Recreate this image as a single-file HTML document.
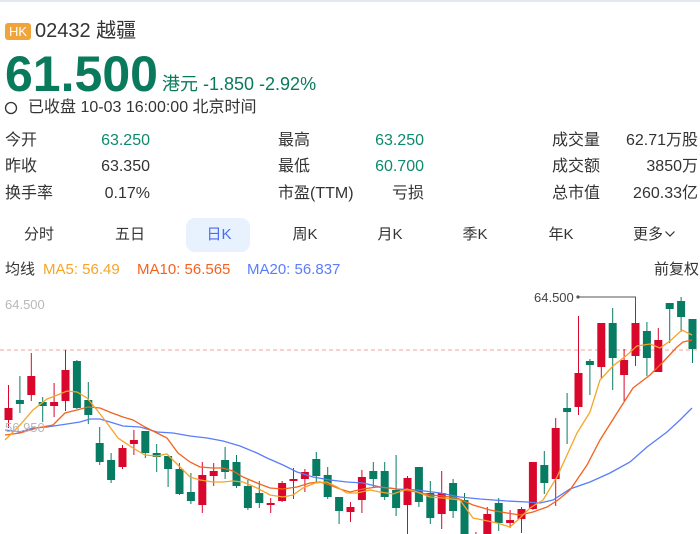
<!DOCTYPE html>
<html><head><meta charset="utf-8">
<style>
*{margin:0;padding:0;box-sizing:border-box}
html,body{width:700px;height:534px;overflow:hidden;background:#fff}
body{position:relative;font-family:"Liberation Sans","Noto Sans CJK SC",sans-serif;color:#333}
.a{position:absolute;white-space:nowrap}
.s{font-size:16px;line-height:16px}
.g{color:#0e8a6c}
.r{text-align:right}
.tab{position:absolute;top:227px;font-size:15px;line-height:15px;width:60px;text-align:center;color:#333}
.ma{position:absolute;top:262px;font-size:15px;line-height:15px}
</style></head><body>
<div class="a" style="left:0;top:0;width:700px;height:2px;background:#e4e8ef"></div>
<div class="a" style="left:5px;top:23px;width:26px;height:17px;background:#f0a43a;border-radius:3px;color:#fff;font-size:13px;line-height:17px;text-align:center">HK</div>
<div class="a" style="left:35px;top:21px;font-size:20px;line-height:20px;color:#333">02432 越疆</div>
<div class="a" style="left:5px;top:49px;font-size:50px;line-height:50px;font-weight:bold;color:#0a7a5c">61.500</div>
<div class="a" style="left:162px;top:75px;font-size:18px;line-height:18px;color:#0a7a5c">港元 -1.850 -2.92%</div>
<svg class="a" style="left:4px;top:101px" width="14" height="14"><circle cx="7" cy="7" r="5.5" fill="none" stroke="#333" stroke-width="1.3"/></svg>
<div class="a" style="left:28px;top:100px;font-size:16px;line-height:16px;color:#333">已收盘 10-03 16:00:00 北京时间</div>

<div class="a s" style="left:5px;top:133px">今开</div>
<div class="a s g r" style="left:70px;top:133px;width:80px">63.250</div>
<div class="a s" style="left:5px;top:159px">昨收</div>
<div class="a s r" style="left:70px;top:159px;width:80px">63.350</div>
<div class="a s" style="left:5px;top:186px">换手率</div>
<div class="a s r" style="left:70px;top:186px;width:80px">0.17%</div>

<div class="a s" style="left:278px;top:133px">最高</div>
<div class="a s g r" style="left:344px;top:133px;width:80px">63.250</div>
<div class="a s" style="left:278px;top:159px">最低</div>
<div class="a s g r" style="left:344px;top:159px;width:80px">60.700</div>
<div class="a s" style="left:278px;top:186px">市盈(TTM)</div>
<div class="a s r" style="left:344px;top:186px;width:80px">亏损</div>

<div class="a s" style="left:552px;top:133px">成交量</div>
<div class="a s r" style="left:598px;top:133px;width:100px">62.71万股</div>
<div class="a s" style="left:552px;top:159px">成交额</div>
<div class="a s r" style="left:598px;top:159px;width:100px">3850万</div>
<div class="a s" style="left:552px;top:186px">总市值</div>
<div class="a s r" style="left:598px;top:186px;width:100px">260.33亿</div>

<div class="a" style="left:186px;top:218px;width:64px;height:34px;background:#e8f1fe;border-radius:9px"></div>
<div class="tab" style="left:9px">分时</div>
<div class="tab" style="left:100px">五日</div>
<div class="tab" style="left:189px;color:#4a6cf0">日K</div>
<div class="tab" style="left:275px">周K</div>
<div class="tab" style="left:360px">月K</div>
<div class="tab" style="left:445px">季K</div>
<div class="tab" style="left:531px">年K</div>
<div class="a" style="left:633px;top:227px;font-size:15px;line-height:15px">更多</div>
<svg class="a" style="left:664px;top:229px" width="12" height="10"><polyline points="1.5,2.5 6,7 10.5,2.5" fill="none" stroke="#333" stroke-width="1.2"/></svg>

<div class="ma" style="left:5px;color:#333">均线</div>
<div class="ma" style="left:43px;color:#f7a428">MA5: 56.49</div>
<div class="ma" style="left:137px;color:#f5621e">MA10: 56.565</div>
<div class="ma" style="left:247px;color:#5a7dfa">MA20: 56.837</div>
<div class="ma" style="left:654px;color:#333">前复权</div>

<svg class="a" style="left:0;top:0" width="700" height="534" viewBox="0 0 700 534">
<text x="5" y="309" font-family="Liberation Sans" font-size="13" fill="#b8b8b8">64.500</text>
<line x1="0" y1="350" x2="700" y2="350" stroke="#f2a0a0" stroke-width="1" stroke-dasharray="4,3"/>
<g>
<g stroke-width="1">
<line x1="8.5" y1="385" x2="8.5" y2="428" stroke="#d9072b"/><rect x="4.5" y="408" width="8" height="12" fill="#d9072b"/>
<line x1="19.9" y1="376" x2="19.9" y2="413" stroke="#087c63"/><rect x="15.9" y="400" width="8" height="4" fill="#087c63"/>
<line x1="31.3" y1="353" x2="31.3" y2="401" stroke="#d9072b"/><rect x="27.3" y="376" width="8" height="19" fill="#d9072b"/>
<line x1="42.7" y1="397" x2="42.7" y2="422" stroke="#087c63"/><rect x="38.7" y="402" width="8" height="4" fill="#087c63"/>
<line x1="54.1" y1="383" x2="54.1" y2="417" stroke="#d9072b"/><rect x="50.1" y="402" width="8" height="4" fill="#d9072b"/>
<line x1="65.5" y1="350" x2="65.5" y2="411" stroke="#d9072b"/><rect x="61.5" y="370" width="8" height="31" fill="#d9072b"/>
<line x1="76.9" y1="360" x2="76.9" y2="409" stroke="#087c63"/><rect x="72.9" y="361" width="8" height="47" fill="#087c63"/>
<line x1="88.3" y1="382" x2="88.3" y2="424" stroke="#087c63"/><rect x="84.3" y="400" width="8" height="15" fill="#087c63"/>
<line x1="99.7" y1="427" x2="99.7" y2="465" stroke="#087c63"/><rect x="95.7" y="443" width="8" height="19" fill="#087c63"/>
<line x1="111.1" y1="453" x2="111.1" y2="483" stroke="#087c63"/><rect x="107.1" y="460" width="8" height="20" fill="#087c63"/>
<line x1="122.5" y1="445" x2="122.5" y2="469" stroke="#d9072b"/><rect x="118.5" y="448" width="8" height="19" fill="#d9072b"/>
<line x1="133.9" y1="430" x2="133.9" y2="455" stroke="#d9072b"/><rect x="129.9" y="440" width="8" height="4" fill="#d9072b"/>
<line x1="145.3" y1="431" x2="145.3" y2="458" stroke="#087c63"/><rect x="141.3" y="431" width="8" height="22" fill="#087c63"/>
<line x1="156.7" y1="444" x2="156.7" y2="472" stroke="#087c63"/><rect x="152.7" y="453" width="8" height="4" fill="#087c63"/>
<line x1="168.1" y1="456" x2="168.1" y2="487" stroke="#087c63"/><rect x="164.1" y="456" width="8" height="13" fill="#087c63"/>
<line x1="179.5" y1="463" x2="179.5" y2="495" stroke="#087c63"/><rect x="175.5" y="469" width="8" height="25" fill="#087c63"/>
<line x1="190.9" y1="473" x2="190.9" y2="504" stroke="#087c63"/><rect x="186.9" y="492" width="8" height="9" fill="#087c63"/>
<line x1="202.3" y1="462" x2="202.3" y2="513" stroke="#d9072b"/><rect x="198.3" y="475" width="8" height="30" fill="#d9072b"/>
<line x1="213.7" y1="463" x2="213.7" y2="486" stroke="#d9072b"/><rect x="209.7" y="471" width="8" height="5" fill="#d9072b"/>
<line x1="225.1" y1="447" x2="225.1" y2="479" stroke="#087c63"/><rect x="221.1" y="460" width="8" height="12" fill="#087c63"/>
<line x1="236.5" y1="455" x2="236.5" y2="488" stroke="#087c63"/><rect x="232.5" y="462" width="8" height="24" fill="#087c63"/>
<line x1="247.9" y1="480" x2="247.9" y2="510" stroke="#087c63"/><rect x="243.9" y="486" width="8" height="22" fill="#087c63"/>
<line x1="259.3" y1="481" x2="259.3" y2="508" stroke="#087c63"/><rect x="255.3" y="493" width="8" height="10" fill="#087c63"/>
<line x1="270.7" y1="498" x2="270.7" y2="513" stroke="#d9072b"/><rect x="266.7" y="503" width="8" height="2" fill="#d9072b"/>
<line x1="282.1" y1="481" x2="282.1" y2="502" stroke="#d9072b"/><rect x="278.1" y="483" width="8" height="18" fill="#d9072b"/>
<line x1="293.5" y1="468" x2="293.5" y2="499" stroke="#d9072b"/><rect x="289.5" y="479" width="8" height="2" fill="#d9072b"/>
<line x1="304.9" y1="469" x2="304.9" y2="492" stroke="#d9072b"/><rect x="300.9" y="472" width="8" height="7" fill="#d9072b"/>
<line x1="316.3" y1="452" x2="316.3" y2="482" stroke="#087c63"/><rect x="312.3" y="459" width="8" height="17" fill="#087c63"/>
<line x1="327.7" y1="467" x2="327.7" y2="499" stroke="#087c63"/><rect x="323.7" y="475" width="8" height="22" fill="#087c63"/>
<line x1="339.1" y1="497" x2="339.1" y2="524" stroke="#087c63"/><rect x="335.1" y="497" width="8" height="14" fill="#087c63"/>
<line x1="350.5" y1="502" x2="350.5" y2="522" stroke="#d9072b"/><rect x="346.5" y="507" width="8" height="5" fill="#d9072b"/>
<line x1="361.9" y1="470" x2="361.9" y2="513" stroke="#d9072b"/><rect x="357.9" y="477" width="8" height="23" fill="#d9072b"/>
<line x1="373.3" y1="462" x2="373.3" y2="488" stroke="#087c63"/><rect x="369.3" y="471" width="8" height="8" fill="#087c63"/>
<line x1="384.7" y1="462" x2="384.7" y2="500" stroke="#087c63"/><rect x="380.7" y="471" width="8" height="26" fill="#087c63"/>
<line x1="396.1" y1="455" x2="396.1" y2="516" stroke="#087c63"/><rect x="392.1" y="490" width="8" height="18" fill="#087c63"/>
<line x1="407.5" y1="476" x2="407.5" y2="534" stroke="#d9072b"/><rect x="403.5" y="478" width="8" height="27" fill="#d9072b"/>
<line x1="418.9" y1="467" x2="418.9" y2="507" stroke="#087c63"/><rect x="414.9" y="467" width="8" height="35" fill="#087c63"/>
<line x1="430.3" y1="481" x2="430.3" y2="524" stroke="#087c63"/><rect x="426.3" y="493" width="8" height="25" fill="#087c63"/>
<line x1="441.7" y1="471" x2="441.7" y2="529" stroke="#d9072b"/><rect x="437.7" y="493" width="8" height="21" fill="#d9072b"/>
<line x1="453.1" y1="479" x2="453.1" y2="518" stroke="#087c63"/><rect x="449.1" y="483" width="8" height="28" fill="#087c63"/>
<line x1="464.5" y1="493" x2="464.5" y2="540" stroke="#087c63"/><rect x="460.5" y="500" width="8" height="40" fill="#087c63"/>
<line x1="475.9" y1="532" x2="475.9" y2="550" stroke="#d9072b"/><rect x="471.9" y="536" width="8" height="9" fill="#d9072b"/>
<line x1="487.3" y1="507" x2="487.3" y2="540" stroke="#d9072b"/><rect x="483.3" y="514" width="8" height="26" fill="#d9072b"/>
<line x1="498.7" y1="498" x2="498.7" y2="531" stroke="#087c63"/><rect x="494.7" y="503" width="8" height="20" fill="#087c63"/>
<line x1="510.1" y1="510" x2="510.1" y2="528" stroke="#d9072b"/><rect x="506.1" y="520" width="8" height="3" fill="#d9072b"/>
<line x1="521.5" y1="507" x2="521.5" y2="533" stroke="#d9072b"/><rect x="517.5" y="509" width="8" height="10" fill="#d9072b"/>
<line x1="532.9" y1="462" x2="532.9" y2="510" stroke="#d9072b"/><rect x="528.9" y="462" width="8" height="47" fill="#d9072b"/>
<line x1="544.3" y1="451" x2="544.3" y2="494" stroke="#087c63"/><rect x="540.3" y="465" width="8" height="18" fill="#087c63"/>
<line x1="555.7" y1="418" x2="555.7" y2="506" stroke="#d9072b"/><rect x="551.7" y="428" width="8" height="51" fill="#d9072b"/>
<line x1="567.1" y1="393" x2="567.1" y2="444" stroke="#087c63"/><rect x="563.1" y="408" width="8" height="4" fill="#087c63"/>
<line x1="578.5" y1="316" x2="578.5" y2="415" stroke="#d9072b"/><rect x="574.5" y="373" width="8" height="34" fill="#d9072b"/>
<line x1="589.9" y1="359" x2="589.9" y2="395" stroke="#087c63"/><rect x="585.9" y="361" width="8" height="4" fill="#087c63"/>
<line x1="601.3" y1="323" x2="601.3" y2="378" stroke="#d9072b"/><rect x="597.3" y="323" width="8" height="44" fill="#d9072b"/>
<line x1="612.7" y1="308" x2="612.7" y2="390" stroke="#087c63"/><rect x="608.7" y="323" width="8" height="35" fill="#087c63"/>
<line x1="624.1" y1="349" x2="624.1" y2="401" stroke="#d9072b"/><rect x="620.1" y="360" width="8" height="15" fill="#d9072b"/>
<line x1="635.5" y1="297" x2="635.5" y2="366" stroke="#d9072b"/><rect x="631.5" y="323" width="8" height="33" fill="#d9072b"/>
<line x1="646.9" y1="322" x2="646.9" y2="376" stroke="#087c63"/><rect x="642.9" y="331" width="8" height="27" fill="#087c63"/>
<line x1="658.3" y1="328" x2="658.3" y2="372" stroke="#d9072b"/><rect x="654.3" y="340" width="8" height="32" fill="#d9072b"/>
<line x1="669.7" y1="303" x2="669.7" y2="343" stroke="#087c63"/><rect x="665.7" y="303" width="8" height="6" fill="#087c63"/>
<line x1="681.1" y1="297" x2="681.1" y2="332" stroke="#087c63"/><rect x="677.1" y="301" width="8" height="16" fill="#087c63"/>
<line x1="692.5" y1="319" x2="692.5" y2="363" stroke="#087c63"/><rect x="688.5" y="319" width="8" height="30" fill="#087c63"/>
</g>
<polyline fill="none" stroke="#5a7dfa" stroke-width="1.3" points="5,430 20,432 33,428 47,427 67,424 80,422 90,419 100,419 110,422 123,426 140,427 157,432 173,433 190,436 207,438 223,441 240,446 257,453 267,458 283,465 297,472 313,477 330,480 347,482 363,483 380,487 397,489 417,490 440,493 460,497 480,499 507,501 527,502 540,503 553,500 570,489 590,482 610,473 630,462 647,447 667,432 680,420 692,408"/>
<polyline fill="none" stroke="#f5621e" stroke-width="1.3" points="5,435 20,433 37,428 53,425 65,413 77,410 88,407 100,408 112,413 123,417 133,420 145,427 157,433 167,438 178,453 190,462 200,467 213,468 223,468 233,471 243,477 257,483 270,488 283,489 297,487 310,483 320,482 330,485 340,489 350,492 363,489 377,487 390,488 403,490 417,492 430,495 443,496 457,498 473,505 490,510 507,513 520,515 533,512 547,507 558,500 570,490 587,465 600,440 617,413 633,388 650,375 663,362 677,347 683,342 692,340"/>
<polyline fill="none" stroke="#f7a428" stroke-width="1.3" points="5,440 20,425 33,410 47,399 55,396 67,391 77,392 87,398 97,410 107,423 118,438 133,448 145,455 157,456 167,454 178,465 190,477 200,480 213,482 223,482 233,481 243,482 257,488 270,495 283,497 293,495 303,488 315,483 327,482 337,487 347,493 357,493 370,490 380,492 393,494 407,489 417,492 430,497 443,498 460,500 473,518 483,520 497,523 510,527 520,518 530,508 543,500 557,477 577,433 590,412 600,380 613,366 627,355 637,346 650,344 660,348 670,341 682,330 692,335"/>
</g>
<text x="5" y="432" font-family="Liberation Sans" font-size="13" fill="#b8b8b8">56.950</text>
<polyline points="578,297 635.5,297 635.5,305" fill="none" stroke="#555" stroke-width="1"/>
<circle cx="578" cy="297" r="1.6" fill="#555"/>
<text x="534" y="302" font-family="Liberation Sans" font-size="13" fill="#444">64.500</text>
</svg>
</body></html>
